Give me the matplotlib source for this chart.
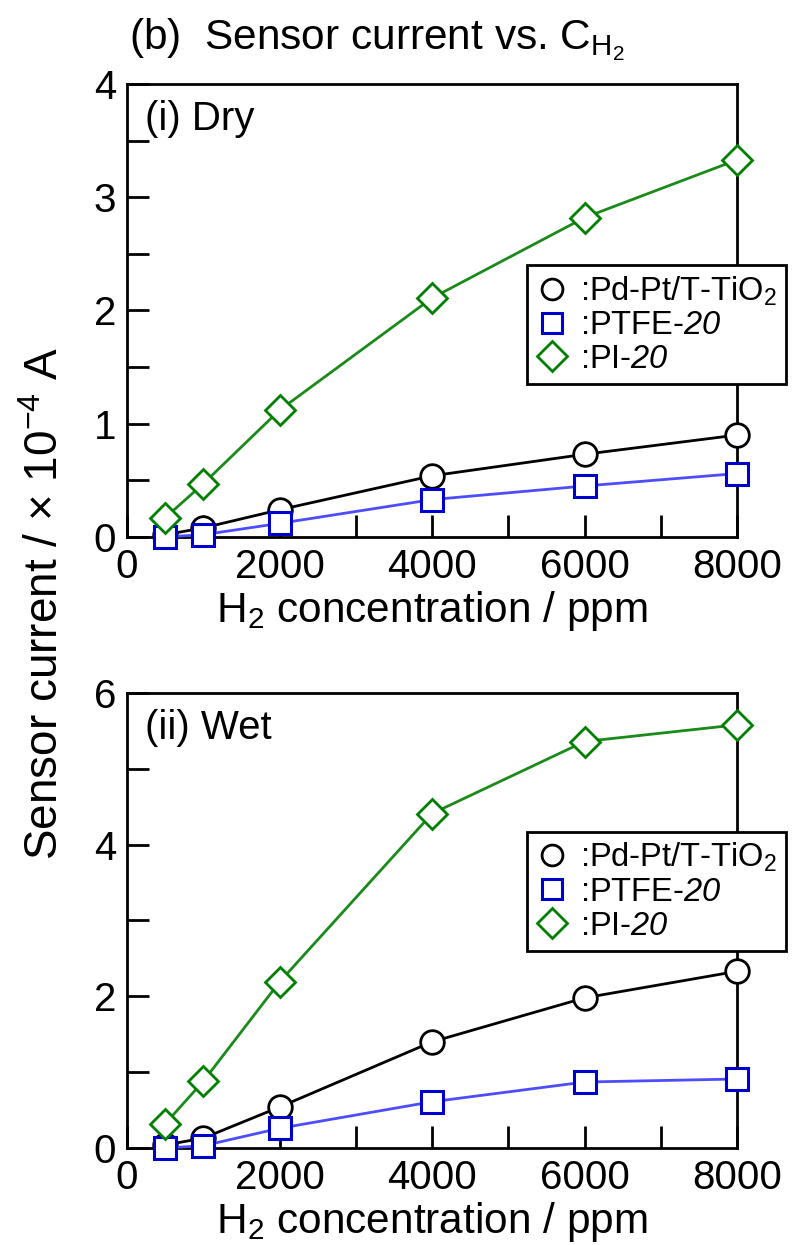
import matplotlib
matplotlib.use("Agg")
import matplotlib.pyplot as plt
from matplotlib.ticker import MultipleLocator

plt.rcParams['font.family'] = ['Liberation Sans', 'DejaVu Sans']
plt.rcParams['mathtext.fontset'] = 'custom'
plt.rcParams['mathtext.rm'] = 'Liberation Sans'
plt.rcParams['mathtext.it'] = 'Liberation Sans:italic'
# sf slot used for the italic digits in the legend
plt.rcParams['mathtext.sf'] = 'Liberation Sans:italic'

conc = [500, 1000, 2000, 4000, 6000, 8000]

dry_pdpt = [0.02, 0.08, 0.24, 0.54, 0.73, 0.90]
dry_ptfe = [0.0, 0.02, 0.12, 0.33, 0.45, 0.56]
dry_pi = [0.17, 0.47, 1.12, 2.11, 2.82, 3.33]

wet_pdpt = [0.04, 0.13, 0.54, 1.40, 1.98, 2.33]
wet_ptfe = [0.0, 0.03, 0.26, 0.61, 0.87, 0.91]
wet_pi = [0.32, 0.88, 2.19, 4.41, 5.36, 5.58]

labels = [r':Pd-Pt/T-TiO$_2$', r':PTFE-$\mathsf{20}$', r':PI-$\mathsf{20}$']

fig = plt.figure(figsize=(8.06, 12.45), dpi=100)
ax1 = fig.add_axes([0.1576, 0.5687, 0.757, 0.3639])
ax2 = fig.add_axes([0.1576, 0.0779, 0.757, 0.3655])


def draw(ax, pdpt, ptfe, pi, ymax, ymaj, ymin, tag, leg_top):
    ax.plot(conc, pdpt, color='black', lw=2, marker='o', ms=17,
            mfc='white', mec='black', mew=2, label=labels[0], zorder=3)
    ax.plot(conc, ptfe, color='#4d4dff', lw=2, marker='s', ms=16,
            mfc='white', mec='#0000cc', mew=2.2, label=labels[1], zorder=3)
    ax.plot(conc, pi, color='#1a8a1a', lw=2, marker='D', ms=15,
            mfc='white', mec='#008000', mew=2, label=labels[2], zorder=3)
    ax.set_xlim(0, 8000)
    ax.set_ylim(0, ymax)
    ax.xaxis.set_major_locator(MultipleLocator(2000))
    ax.xaxis.set_minor_locator(MultipleLocator(1000))
    ax.yaxis.set_major_locator(MultipleLocator(ymaj))
    ax.yaxis.set_minor_locator(MultipleLocator(ymin))
    ax.tick_params(which='both', direction='in', width=2, labelsize=29,
                   top=False, right=False)
    ax.tick_params(which='major', length=16, pad=8)
    ax.tick_params(which='minor', length=16)
    for s in ax.spines.values():
        s.set_linewidth(2)
    ax.set_xlabel(r'H$_2$ concentration / ppm', fontsize=30.5, labelpad=2)
    ax.text(0.03, 0.965, tag, transform=ax.transAxes, fontsize=29,
            va='top', ha='left')
    leg = ax.legend(loc='upper left', bbox_to_anchor=(0.655, leg_top),
                    fontsize=23.5, frameon=True, fancybox=False, framealpha=1,
                    edgecolor='black', handlelength=1.0, handletextpad=0.35,
                    borderpad=0.28, labelspacing=0.08, borderaxespad=0)
    leg.get_frame().set_linewidth(2)
    leg.set_zorder(10)
    for line in ax.lines:
        line.set_clip_on(False)
    for h in leg.legend_handles:
        h.set_linestyle('none')
        h.set_markersize(15)


draw(ax1, dry_pdpt, dry_ptfe, dry_pi, 4, 1, 0.5, '(i) Dry', 0.60)
draw(ax2, wet_pdpt, wet_ptfe, wet_pi, 6, 2, 1, '(ii) Wet', 0.695)

fig.text(0.057, 0.515, r'Sensor current / $\times$ 10$^{-4}$ A', rotation=90,
         fontsize=33, ha='center', va='center')
fig.text(0.16, 0.968, r'(b)  Sensor current vs. C$_{\mathrm{H}_2}$', fontsize=30.5,
         ha='left', va='center')

fig.savefig('out.png', dpi=100)
